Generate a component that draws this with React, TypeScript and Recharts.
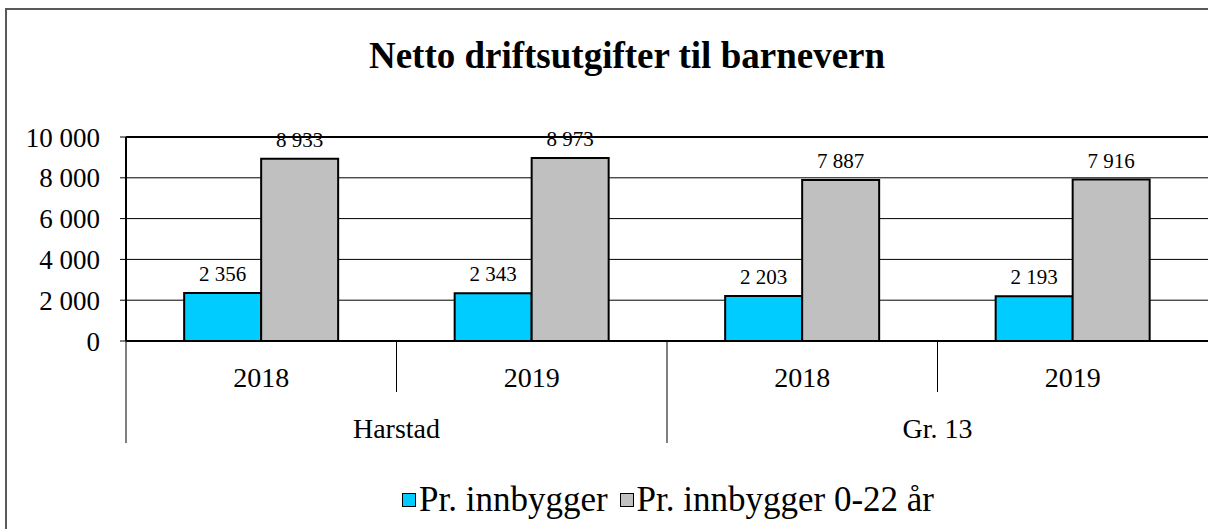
import { BarChart, Bar, XAxis, YAxis, CartesianGrid, Legend, LabelList, ReferenceLine } from 'recharts';

const years = ['2018', '2019', '2018', '2019'];
const groups = ['Harstad', 'Harstad', 'Gr. 13', 'Gr. 13'];
const perInnbygger = [2356, 2343, 2203, 2193];
const perInnbygger022 = [8933, 8973, 7887, 7916];
const yTicks = [0, 2000, 4000, 6000, 8000, 10000];

const series = [
  { key: 'a', name: 'Pr. innbygger', color: '#00CCFF' },
  { key: 'b', name: 'Pr. innbygger 0-22 år', color: '#C0C0C0' },
];

const data = years.map((year, i) => ({
  year,
  group: groups[i],
  a: perInnbygger[i],
  b: perInnbygger022[i],
}));

const W = 1208;
const H = 529;
const AXIS_W = 126;
const FONT = '"Liberation Serif", "Times New Roman", serif';
const halfBand = (W - AXIS_W) / years.length / 2;

// mellomrom som tusenskille
const fmt = (v: number) => String(v).replace(/\B(?=(\d{3})+(?!\d))/g, ' ');

const YearTick = (props: any) => {
  const { x, y, payload, index } = props;
  const i = payload?.index ?? index;
  const sepLen = i % 2 === 0 ? 102 : 51;
  return (
    <g>
      <line x1={x - halfBand} x2={x - halfBand} y1={y} y2={y + sepLen} stroke="#000" strokeWidth={1} />
      <text x={x} y={y + 36} textAnchor="middle" dominantBaseline="central" fontSize={28} fontFamily={FONT} fill="#000">
        {payload.value}
      </text>
    </g>
  );
};

const GroupTick = (props: any) => {
  const { x, y, payload } = props;
  return (
    <text x={x} y={y + 36} textAnchor="middle" dominantBaseline="central" fontSize={28} fontFamily={FONT} fill="#000">
      {payload.value}
    </text>
  );
};

const LegendContent = () => (
  <div style={{ height: 72, display: 'flex', alignItems: 'flex-end', justifyContent: 'center', width: W, paddingLeft: 140, boxSizing: 'border-box' }}>
    {series.map((s) => (
      <div key={s.key} style={{ display: 'flex', alignItems: 'center', marginRight: 12, height: 30 }}>
        <span style={{ display: 'inline-block', width: 12, height: 12, background: s.color, border: '1.5px solid #000', marginRight: 3 }} />
        <span style={{ fontFamily: FONT, fontSize: 35, lineHeight: '30px', color: '#000' }}>{s.name}</span>
      </div>
    ))}
  </div>
);

export default function App() {
  return (
    <div style={{ position: 'absolute', left: 0, top: 0, width: W, height: H, overflow: 'hidden', background: '#fff' }}>
      <div style={{ position: 'absolute', left: 5, top: 8, width: W + 20, height: H + 20, border: '2px solid #595959' }} />
      <div
        style={{
          position: 'absolute', left: 627, top: 55, transform: 'translate(-50%, -50%)',
          fontFamily: FONT, fontWeight: 'bold', fontSize: 37, whiteSpace: 'nowrap', color: '#000',
        }}
      >
        Netto driftsutgifter til barnevern
      </div>
      <div style={{ position: 'absolute', left: 0, top: 0 }}>
        <BarChart
          width={W}
          height={H}
          data={data}
          margin={{ top: 137, right: 0, left: 0, bottom: 14 }}
          barCategoryGap="21.5%"
          barGap={0}
        >
          <CartesianGrid horizontal vertical={false} stroke="#000" strokeWidth={1} />
          <XAxis
            dataKey="year"
            height={51}
            tickSize={0}
            tickMargin={0}
            tick={<YearTick />}
            axisLine={{ stroke: '#000', strokeWidth: 2 }}
            tickLine={false}
            interval={0}
          />
          <XAxis
            xAxisId="group"
            dataKey="group"
            allowDuplicatedCategory={false}
            height={51}
            tickSize={0}
            tickMargin={0}
            tick={<GroupTick />}
            axisLine={false}
            tickLine={false}
            interval={0}
          />
          <YAxis
            width={AXIS_W}
            domain={[0, 10000]}
            ticks={yTicks}
            tickFormatter={fmt}
            tickSize={6}
            tickMargin={20}
            axisLine={{ stroke: '#000', strokeWidth: 2 }}
            tickLine={{ stroke: '#000' }}
            tick={{ fontSize: 27, fontFamily: FONT, fill: '#000' }}
            interval={0}
          />
          <ReferenceLine y={yTicks[yTicks.length - 1]} stroke="#000" strokeWidth={2} />
          <Legend verticalAlign="bottom" content={<LegendContent />} />
          {series.map((s) => (
            <Bar key={s.key} dataKey={s.key} name={s.name} fill={s.color} stroke="#000" strokeWidth={2} isAnimationActive={false}>
              <LabelList dataKey={s.key} position="top" offset={12} formatter={(v: any) => fmt(Number(v))} style={{ fontSize: 21, fontFamily: FONT, fill: '#000' }} />
            </Bar>
          ))}
        </BarChart>
      </div>
    </div>
  );
}
